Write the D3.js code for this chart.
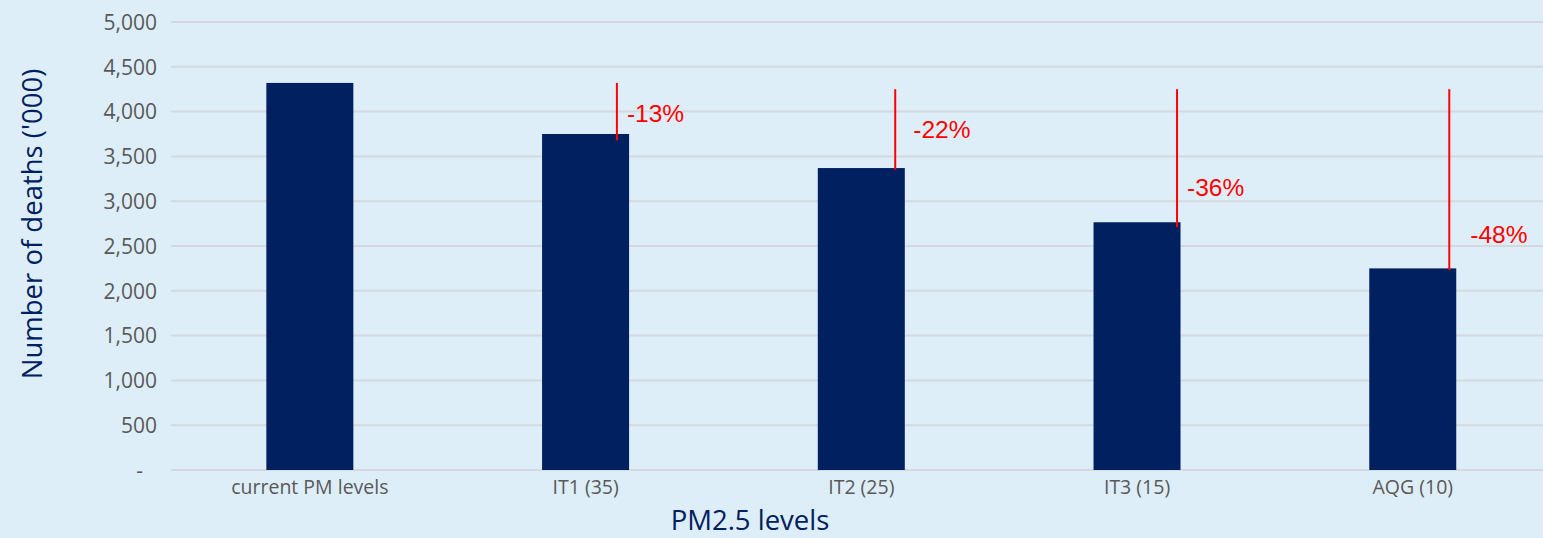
<!DOCTYPE html>
<html>
<head>
<meta charset="utf-8">
<script src="https://cdn.jsdelivr.net/npm/d3@7"></script>
<style>
  html, body { margin: 0; padding: 0; background: #ddeef8; }
  svg { display: block; }
</style>
</head>
<body>
<svg id="chart" width="1543" height="538"></svg>
<script>
// ---- data ----
const categories = ["current PM levels", "IT1 (35)", "IT2 (25)", "IT3 (15)", "AQG (10)"];
const deaths = [4320, 3750, 3370, 2765, 2250];
const yTicks = [0, 500, 1000, 1500, 2000, 2500, 3000, 3500, 4000, 4500, 5000];
const changeLabels = [null, "-13%", "-22%", "-36%", "-48%"];
const changeLineTop = [null, 4320, 4250, 4250, 4250];
const changeLineBottom = [null, 3680, 3350, 2710, 2230];

// ---- annotation layout (not data) ----
const lineFrac = [null, 0.86, 0.89, 0.96, 0.92];
const labelDx = [null, 10, 18, 10, 21];
const labelAt = [null, 3884, 3705, 3058, 2533];

const W = 1543, H = 538;
const margin = { left: 171, right: 0, top: 22, bottom: 68 };
const svg = d3.select("#chart");

svg.append("rect").attr("width", W).attr("height", H).attr("fill", "#ddeef8");

const x = d3.scaleBand()
  .domain(categories)
  .range([172, 1550.6])
  .paddingInner(0.6845)
  .paddingOuter(0.3422);

const y = d3.scaleLinear()
  .domain([0, 5000])
  .range([H - margin.bottom, margin.top]);

// gridlines
svg.append("g")
  .selectAll("line")
  .data(yTicks)
  .join("line")
  .attr("x1", margin.left)
  .attr("x2", W - margin.right)
  .attr("y1", d => y(d))
  .attr("y2", d => y(d))
  .attr("stroke", "#d5d9dc")
  .attr("stroke-width", 2);

// y axis
const yAxis = svg.append("g")
  .attr("transform", `translate(${margin.left},0)`)
  .call(d3.axisLeft(y).tickValues(yTicks).tickSize(0).tickPadding(14)
    .tickFormat(d => d === 0 ? "-" : d3.format(",")(d)));
yAxis.select(".domain").remove();
yAxis.selectAll("text")
  .attr("fill", "#595959")
  .style("font-family", "'Open Sans', sans-serif")
  .style("font-size", "21px")
  .attr("dy", "0.35em");
yAxis.selectAll(".tick").filter(d => d === 0).select("text").attr("x", -28);

// bars
svg.append("g")
  .selectAll("rect")
  .data(categories)
  .join("rect")
  .attr("x", d => x(d))
  .attr("width", x.bandwidth())
  .attr("y", (d, i) => y(deaths[i]))
  .attr("height", (d, i) => y(0) - y(deaths[i]))
  .attr("fill", "#002060");

// x axis labels
const xAxis = svg.append("g")
  .attr("transform", `translate(0,${y(0)})`)
  .call(d3.axisBottom(x).tickSize(0).tickPadding(10));
xAxis.select(".domain").remove();
xAxis.selectAll("text")
  .attr("fill", "#595959")
  .style("font-family", "'Open Sans', sans-serif")
  .style("font-size", "19.5px");

// change annotations
const ann = svg.append("g");
categories.forEach((c, i) => {
  if (changeLabels[i] == null) return;
  const lx = x(c) + x.bandwidth() * lineFrac[i];
  ann.append("line")
    .attr("x1", lx).attr("x2", lx)
    .attr("y1", y(changeLineTop[i]))
    .attr("y2", y(changeLineBottom[i]))
    .attr("stroke", "#ff0000")
    .attr("stroke-width", 2);
  ann.append("text")
    .attr("x", lx + labelDx[i])
    .attr("y", y(labelAt[i]))
    .attr("fill", "#ff0000")
    .style("font-family", "'Liberation Sans', Arial, sans-serif")
    .style("font-size", "24.5px")
    .text(changeLabels[i]);
});

// axis titles
svg.append("text")
  .attr("transform", `translate(42,224) rotate(-90)`)
  .attr("text-anchor", "middle")
  .attr("fill", "#002060")
  .style("font-family", "'Open Sans', sans-serif")
  .style("font-size", "27.5px")
  .text("Number of deaths ('000)");

svg.append("text")
  .attr("x", 750)
  .attr("y", 530)
  .attr("text-anchor", "middle")
  .attr("fill", "#002060")
  .style("font-family", "'Open Sans', sans-serif")
  .style("font-size", "27.5px")
  .text("PM2.5 levels");
</script>
</body>
</html>
